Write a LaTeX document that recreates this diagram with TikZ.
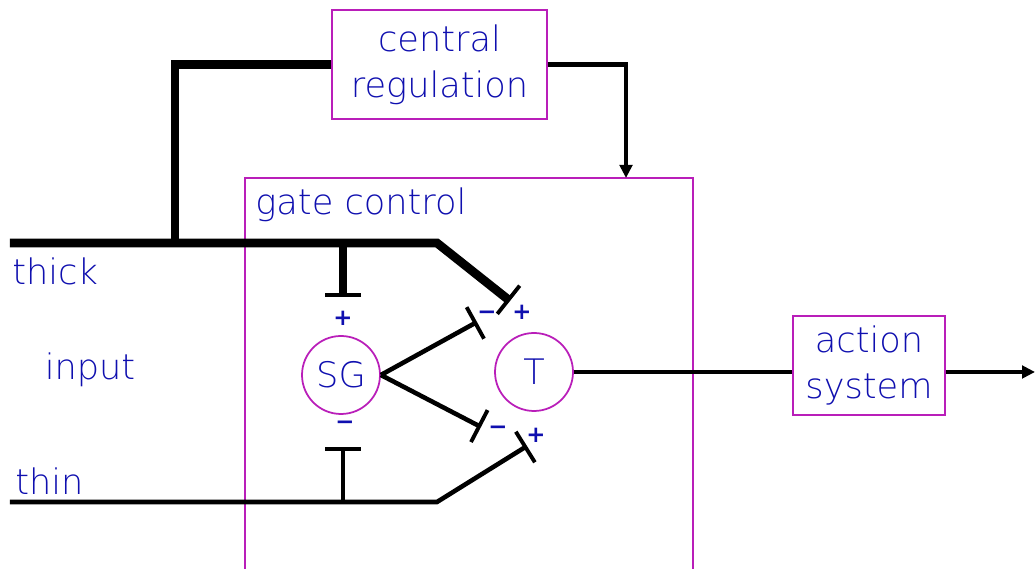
\documentclass[tikz,border=0pt]{standalone}
\usepackage{fontspec}
\setmainfont{DejaVu Sans ExtraLight}
\newfontfamily\signfont{DejaVu Sans}
\usetikzlibrary{arrows.meta,calc,positioning}
\definecolor{boxline}{RGB}{185,30,185}
\definecolor{labelblue}{RGB}{15,15,175}

\begin{document}
\begin{tikzpicture}[>=Triangle,text=labelblue,font=\fontsize{20}{26}\selectfont,
  box/.style={draw=boxline,line width=1pt,align=center,inner sep=0pt},
  unit/.style={circle,draw=boxline,line width=1pt,minimum size=1.56cm,inner sep=0pt},
  sign/.style={inner sep=0pt,font=\signfont\bfseries\fontsize{13}{13}\selectfont},
  fat/.style={line width=5pt},
  wire/.style={line width=2.6pt},
  stop/.style={-{Bar[width=0.72cm,line width'=2.2pt]}},
  tip/.style={-{Triangle[width=0.25cm,length=0.26cm]}}]
  \useasboundingbox (0,0) rectangle (20.7,11.38);
  \node[box,minimum width=4.3cm,minimum height=2.18cm] (CR) at (8.79,10.09) {central\\regulation};
  \node[box,minimum width=8.96cm,minimum height=8.4cm] (GC) at (9.38,3.62) {};
  \node[anchor=west,inner sep=0pt] (GCL) at (5.1,7.28) {gate control};
  \node[box,minimum width=3.04cm,minimum height=1.98cm] (AS) at (17.38,4.07) {action\\system};
  \node[unit] (SG) at (6.82,3.88) {SG};
  \node[unit] (T) at (10.68,3.94) {T};
  \node[anchor=west,inner sep=0pt] (thk) at (0.24,5.96) {thick};
  \node (inp) at (1.8,3.98) {input};
  \node[anchor=west,inner sep=0pt] (thn) at (0.3,1.76) {thin};

  \coordinate (thickin) at (0.2,6.52);
  \coordinate (branch) at (3.5,6.52);
  \coordinate (thickbend) at (8.74,6.52);
  \coordinate (thickend) at (10.2,5.36);
  \coordinate (stubtop) at (6.86,6.52);
  \coordinate (stubbar) at (6.86,5.44);
  \coordinate (gatein) at (12.52,7.82);
  \coordinate (sgup) at (9.54,4.94);
  \coordinate (sgdown) at (9.62,2.84);
  \coordinate (thinin) at (0.2,1.34);
  \coordinate (thinjoin) at (6.86,1.34);
  \coordinate (thinbend) at (8.74,1.34);
  \coordinate (thinend) at (10.54,2.46);
  \coordinate (thinbar) at (6.86,2.44);
  \coordinate (out) at (20.7,3.94);

  \draw[fat] (CR.west) -| (branch);
  \draw[wire,tip] (CR.east) -| (gatein);
  \draw[fat,stop] (thickin) -- (thickbend) -- (thickend);
  \draw[fat,stop] (stubtop) -- (stubbar);
  \draw[wire,stop] (SG.east) -- (sgup);
  \draw[wire,stop] (SG.east) -- (sgdown);
  \draw[wire,stop] (thinin) -- (thinbend) -- (thinend);
  \draw[wire,stop] (thinjoin) -- (thinbar);
  \draw[wire] (T.east) -- (T.east -| AS.west);
  \draw[wire,tip] (AS.east |- out) -- (out);

  \node[sign] (p1) at (6.86,5.02) {+};
  \node[sign] (m1) at (6.9,2.88) {−};
  \node[sign] (m2) at (9.74,5.08) {−};
  \node[sign] (p2) at (10.44,5.14) {+};
  \node[sign] (m3) at (9.96,2.78) {−};
  \node[sign] (p3) at (10.72,2.68) {+};
\end{tikzpicture}
\end{document}
